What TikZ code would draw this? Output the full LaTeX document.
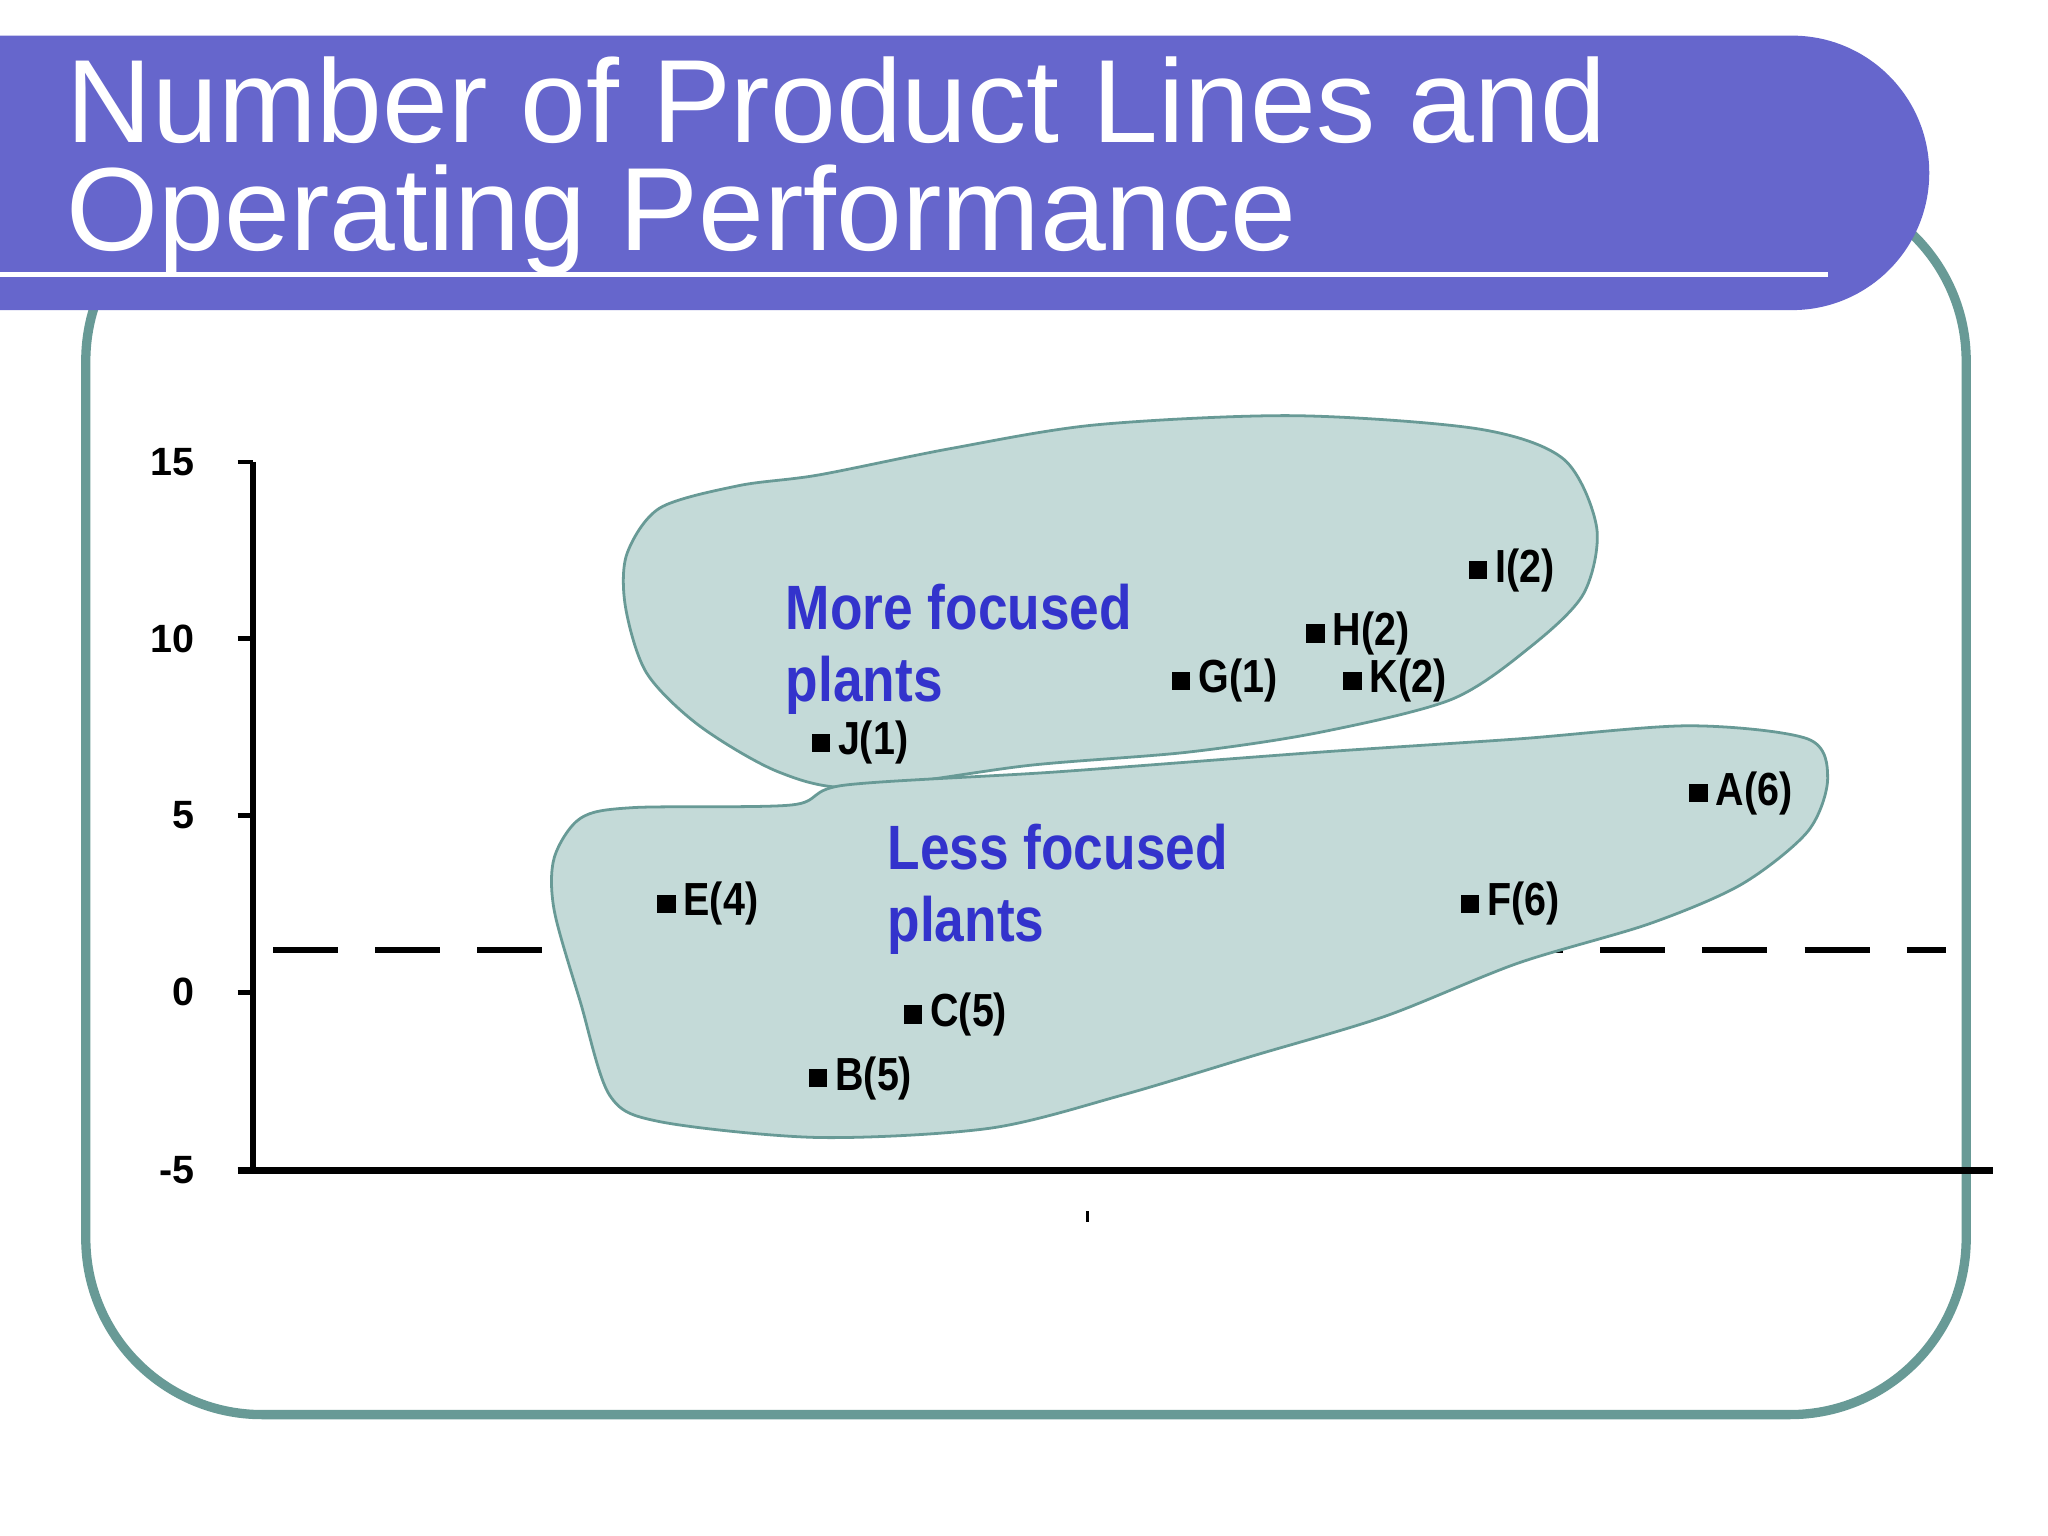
\documentclass[tikz,border=0pt]{standalone}
\usepackage{fontspec}
\setmainfont{Liberation Sans}
\definecolor{teal1}{RGB}{104,154,150}
\definecolor{banner}{RGB}{102,102,204}
\definecolor{lbl}{RGB}{51,51,204}
\definecolor{blobfill}{RGB}{196,218,216}
\tikzset{
 pt/.style={fill=black,minimum size=4pt,inner sep=0pt,draw=none},
 plab/.style={anchor=west,inner sep=1pt,font=\bfseries\fontsize{10}{10}\selectfont,xscale=0.85},
 grp/.style={anchor=north west,align=left,text=lbl,font=\bfseries\fontsize{13.5}{15.5}\selectfont,xscale=0.85},
 tl/.style={anchor=east,font=\bfseries\fontsize{8.5}{9}\selectfont},
 blob/.style={draw=teal1,fill=blobfill,line width=0.6pt},
 ttl/.style={anchor=base west,text=white,font=\fontsize{25.5}{27}\selectfont,inner sep=0}
}
\begin{document}
\begin{tikzpicture}[x=0.01cm,y=-0.01cm]
\useasboundingbox (0,0) rectangle (1552,1164);
\fill[white] (0,0) rectangle (1552,1164);
% frame
\draw[teal1,line width=2pt,rounded corners=38pt] (65,140) rectangle (1490,1072);
% banner
\fill[banner] (0,27) -- (1358,27) arc[start angle=-90,end angle=90,radius=104] -- (0,235) -- cycle;
\draw[white,line width=1.2pt] (0,208) -- (1385,208);
\node[ttl] (t1) at (50,108) {Number of Product Lines and};
\node[ttl] (t2) at (50,190) {Operating Performance};
% dashed line (behind blobs)
\draw[line width=1.3pt,dash pattern=on 14pt off 8pt] (207,720) -- (1475,720);
% blobs
\draw[blob] plot[smooth cycle,tension=0.5] coordinates {(475,420)(500,385)(560,368)(620,360)(720,340)(830,322)(980,315)(1120,325)(1185,348)(1210,400)(1200,450)(1160,490)(1100,530)(1000,555)(900,570)(780,580)(650,597)(590,585)(530,550)(490,510)(474,460)};
\draw[blob] plot[smooth cycle,tension=0.5] coordinates {(420,650)(440,620)(480,612)(600,610)(640,595)(800,585)(1000,570)(1150,560)(1280,550)(1370,560)(1385,590)(1370,630)(1320,670)(1250,700)(1150,730)(1050,770)(950,800)(850,830)(750,855)(620,862)(500,850)(462,830)(440,760)(420,690)};
% axes
\draw[line width=1.3pt] (192,350) -- (192,887);
\draw[line width=1.6pt] (180,887) -- (1510,887);
\foreach \v/\y in {15/350,10/484,5/618,0/752,-5/887}{
 \draw[line width=1pt] (180,\y) -- (192,\y);
 \node[tl] (tk\y) at (160,\y) {\v};
}
\draw[line width=0.8pt] (824,918) -- (824,926);
% group labels
\node[grp] (more) at (585,430) {More focused\\plants};
\node[grp] (less) at (662,612) {Less focused\\plants};
% points
\foreach \n/\x/\y/\t in {J/622/563/J(1),G/895/516/G(1),H/997/480/H(2),K/1025/516/K(2),I/1120/432/I(2),A/1287/601/A(6),E/505/685/E(4),F/1114/685/F(6),C/692/769/C(5),B/620/817/B(5)}{
 \node[pt] (p\n) at (\x,\y) {};
 \node[plab] (l\n) at ([xshift=0.5pt]p\n.east) {\t};
}
\end{tikzpicture}
\end{document}
